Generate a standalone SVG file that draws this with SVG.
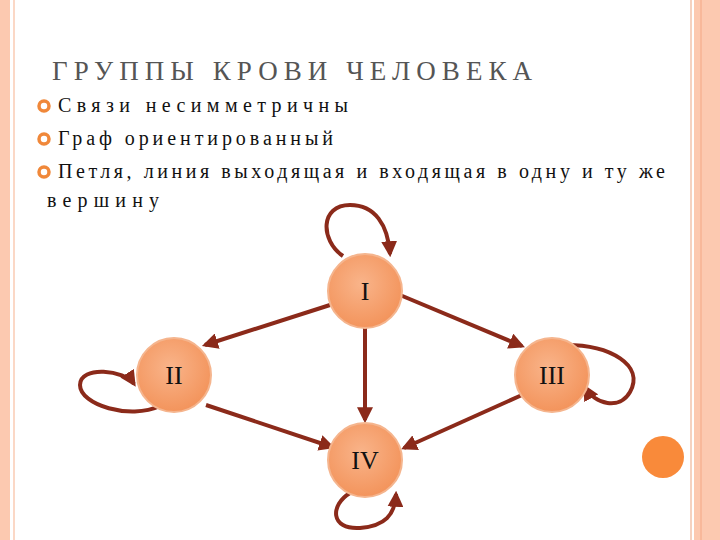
<svg xmlns="http://www.w3.org/2000/svg" width="720" height="540" viewBox="0 0 720 540">
<defs>
<radialGradient id="g" cx="0.45" cy="0.4" r="0.6"><stop offset="0" stop-color="#f9b48a"/><stop offset="1" stop-color="#f3945c"/></radialGradient>
<marker id="a" viewBox="0 0 10 10" refX="8" refY="5" markerWidth="4" markerHeight="4" orient="auto"><path d="M0,0 L10,5 L0,10 z" fill="#8b2a1a"/></marker>
</defs>
<style>
.e{stroke:#8b2a1a;stroke-width:4;fill:none;marker-end:url(#a)}
.n{fill:url(#g);stroke:#f5b58e;stroke-width:2}
.l{font-family:"Liberation Serif","DejaVu Serif",serif;font-size:26px;fill:#111;text-anchor:middle}
.t{font-family:"Liberation Serif","DejaVu Serif",serif;font-size:20px;fill:#111}
</style>
<rect width="720" height="540" fill="#fff"/>
<rect x="0" y="0" width="10" height="540" fill="#fcc9b0"/>
<rect x="13" y="0" width="2" height="540" fill="#fbd8c6"/>
<rect x="690" y="0" width="2" height="540" fill="#f5d2c0"/>
<rect x="694" y="0" width="26" height="540" fill="#fcc9b0"/>
<rect x="700" y="0" width="2" height="540" fill="#f8b89a"/>
<circle cx="663" cy="457" r="21" fill="#f98a3a"/>
<text x="52" y="80" style='font-family:"Liberation Serif","DejaVu Serif",serif' font-size="27" fill="#555" textLength="480" lengthAdjust="spacing">ГРУППЫ КРОВИ ЧЕЛОВЕКА</text>
<g fill="none" stroke="#f0883a" stroke-width="3.5"><circle cx="44" cy="106" r="5"/><circle cx="44" cy="139" r="5"/><circle cx="44" cy="172" r="5"/></g>
<text class="t" x="58" y="112" textLength="290" lengthAdjust="spacing">Связи несимметричны</text>
<text class="t" x="58" y="145" textLength="275" lengthAdjust="spacing">Граф ориентированный</text>
<text class="t" x="58" y="178" textLength="607" lengthAdjust="spacing">Петля, линия выходящая и входящая в одну и ту же</text>
<text class="t" x="47" y="207" textLength="112" lengthAdjust="spacing">вершину</text>
<g id="connectors">
<path class="e" d="M330,305 L205,345"/>
<path class="e" d="M400,295 L522,346"/>
<path class="e" d="M365,328 L365,420"/>
<path class="e" d="M206,405 L332,447"/>
<path class="e" d="M522,395 L404,448"/>
<path class="e" d="M343,256 C320,240 320,205 350,205 C375,205 388,225 390,254"/>
<path class="e" d="M160,406 C130,420 80,405 80,385 C80,365 125,370 134,384"/>
<path class="e" d="M566,345 C610,345 645,365 630,392 C620,410 595,405 585,387"/>
<path class="e" d="M350,493 C330,505 330,530 360,528 C385,526 395,515 396,494"/>
</g>
<g id="n1"><circle class="n" cx="365" cy="291" r="37"/><text class="l" x="365" y="300">I</text></g>
<g id="n2"><circle class="n" cx="174" cy="375" r="37"/><text class="l" x="174" y="384">II</text></g>
<g id="n3"><circle class="n" cx="552" cy="375" r="37"/><text class="l" x="552" y="384">III</text></g>
<g id="n4"><circle class="n" cx="365" cy="460" r="37"/><text class="l" x="365" y="469">IV</text></g>
</svg>
